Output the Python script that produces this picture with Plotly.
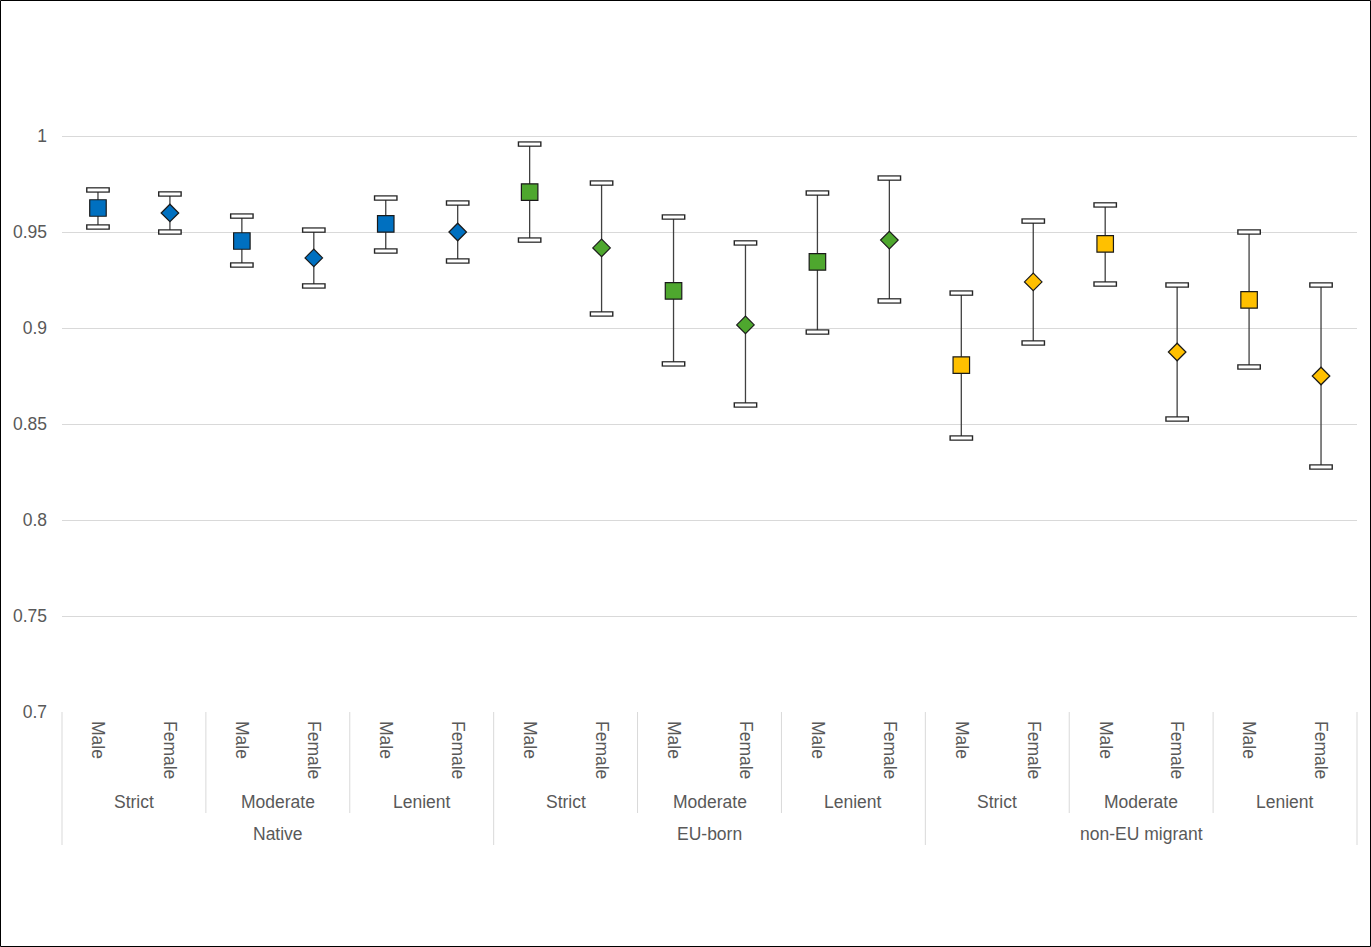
import plotly.graph_objects as go

origins = ["Native", "EU-born", "non-EU migrant"]
regimes = ["Strict", "Moderate", "Lenient"]
sexes = ["Male", "Female"]

# values in order: origin -> regime -> sex
values = [0.9625, 0.9599, 0.9453, 0.9365, 0.9542, 0.9500,
          0.9708, 0.9417, 0.9193, 0.9016, 0.9344, 0.9458,
          0.8807, 0.9240, 0.9438, 0.8875, 0.9146, 0.8750]
upper = [0.9719, 0.9698, 0.9583, 0.9510, 0.9677, 0.9651,
         0.9958, 0.9755, 0.9578, 0.9443, 0.9703, 0.9781,
         0.9182, 0.9557, 0.9641, 0.9224, 0.9500, 0.9224]
lower = [0.9526, 0.9500, 0.9328, 0.9219, 0.9401, 0.9349,
         0.9458, 0.9073, 0.8813, 0.8599, 0.8979, 0.9141,
         0.8427, 0.8922, 0.9229, 0.8526, 0.8797, 0.8276]
origin_colors = ["#0070C0", "#4EA72E", "#FFC000"]
y_ticks = [0.7, 0.75, 0.8, 0.85, 0.9, 0.95, 1.0]
y_ticktext = ["0.7", "0.75", "0.8", "0.85", "0.9", "0.95", "1"]

n = len(values)
xs = list(range(n))
sex_labels = [sexes[i % 2] for i in range(n)]
colors = [origin_colors[i // 6] for i in range(n)]
symbols = ["square" if i % 2 == 0 else "diamond" for i in range(n)]
sizes = [16.5 if i % 2 == 0 else 13.5 for i in range(n)]

W, H = 1371, 947
ml, mr, mt, mb = 62, 14, 40, 235
pw, ph = W - ml - mr, H - mt - mb
FONT = "Liberation Sans, Arial, sans-serif"
FS = 17.5
TXT = "#595959"
GRID = "#d9d9d9"

fig = go.Figure()
fig.add_trace(go.Scatter(
    x=xs, y=values, mode="markers", opacity=1,
    marker=dict(symbol=symbols, color=colors, size=sizes, opacity=1,
                line=dict(color="#1a1a1a", width=1.2)),
    error_y=dict(type="data", symmetric=False,
                 array=[u - v for u, v in zip(upper, values)],
                 arrayminus=[v - l for v, l in zip(values, lower)],
                 width=0, thickness=1.3, color="#404040"),
    showlegend=False, hoverinfo="skip"))
# caps: hollow rectangles
for yy in (upper, lower):
    fig.add_trace(go.Scatter(x=xs, y=yy, mode="markers",
        marker=dict(symbol="line-ew", size=17, line=dict(color="#262626", width=5.5)),
        showlegend=False, hoverinfo="skip"))
    fig.add_trace(go.Scatter(x=xs, y=yy, mode="markers",
        marker=dict(symbol="line-ew", size=15, line=dict(color="white", width=3)),
        showlegend=False, hoverinfo="skip"))

def px2x(px):
    return (px - ml) / pw

def py2y(py):
    return (H - mb - py) / ph

cat_w = 1.0 / n
annotations = []
shapes = []
# regime labels
for g in range(len(origins)):
    for r in range(len(regimes)):
        start = g * 6 + r * 2
        cx = (start + 1) * cat_w
        annotations.append(dict(x=cx, y=py2y(802), xref="paper", yref="paper",
                                text=regimes[r], showarrow=False,
                                font=dict(family=FONT, size=FS, color=TXT),
                                xanchor="center", yanchor="middle"))
        if r > 0:
            shapes.append(dict(type="line", xref="paper", yref="paper",
                               x0=start * cat_w, x1=start * cat_w,
                               y0=0, y1=py2y(813), line=dict(color=GRID, width=1)))
    cx = (g * 6 + 3) * cat_w
    annotations.append(dict(x=cx, y=py2y(834), xref="paper", yref="paper",
                            text=origins[g], showarrow=False,
                            font=dict(family=FONT, size=FS, color=TXT),
                            xanchor="center", yanchor="middle"))
for g in range(len(origins) + 1):
    xx = g * 6 * cat_w
    shapes.append(dict(type="line", xref="paper", yref="paper",
                       x0=xx, x1=xx, y0=0, y1=py2y(845),
                       line=dict(color=GRID, width=1)))
# outer border
shapes.append(dict(type="rect", xref="paper", yref="paper",
                   x0=px2x(0.5), x1=px2x(W - 0.5), y0=py2y(H - 0.5), y1=py2y(0.5),
                   line=dict(color="black", width=1), layer="below"))

fig.update_layout(
    width=W, height=H,
    margin=dict(l=ml, r=mr, t=mt, b=mb, pad=0),
    paper_bgcolor="white", plot_bgcolor="white",
    font=dict(family=FONT, size=FS, color=TXT),
    annotations=annotations, shapes=shapes,
    xaxis=dict(range=[-0.5, n - 0.5], tickmode="array", tickvals=xs,
               ticktext=sex_labels, tickangle=90, showgrid=False,
               zeroline=False, showline=False, ticks="", ticklabelstandoff=8,
               tickfont=dict(family=FONT, size=FS, color=TXT)),
    yaxis=dict(range=[0.7, 1.05], tickmode="array", tickvals=y_ticks,
               ticktext=y_ticktext, showgrid=True, gridcolor=GRID, gridwidth=1,
               zeroline=False, showline=False, ticks="", ticklabelstandoff=14,
               tickfont=dict(family=FONT, size=FS, color=TXT)),
)
fig.write_html("out.html", config={"displayModeBar": False},
               post_script="document.body.style.margin='0';document.body.style.padding='0';")
